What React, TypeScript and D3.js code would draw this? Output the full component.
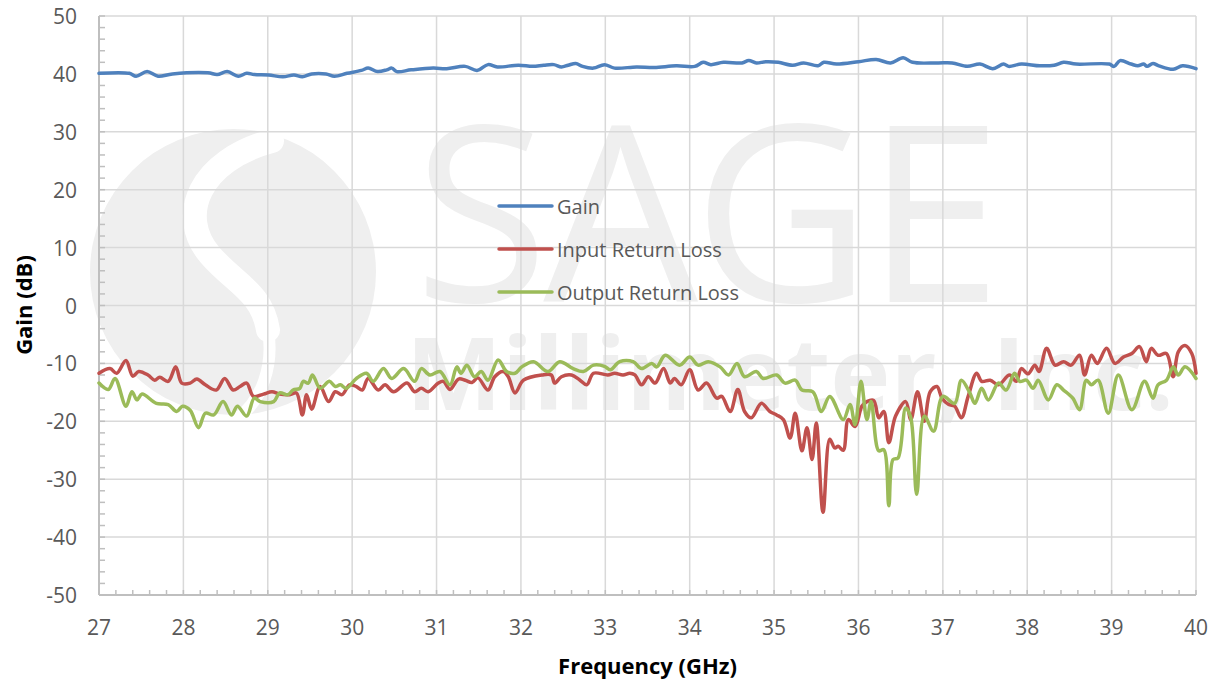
import React from 'react';
import * as d3 from 'd3';

type Pt = [number, number];

const freqTicks = [27, 28, 29, 30, 31, 32, 33, 34, 35, 36, 37, 38, 39, 40];
const gainTicks = [-50, -40, -30, -20, -10, 0, 10, 20, 30, 40, 50];
const seriesNames = ['Gain', 'Input Return Loss', 'Output Return Loss'];
const seriesColors = ['#4F81BD', '#C0504D', '#9BBB59'];

const gainData: Pt[] = [
  [27.00, 40.1], [27.36, 40.1], [27.44, 39.6], [27.57, 40.4], [27.70, 39.6], [27.87, 40.0], [28.29, 40.2],
  [28.40, 39.9], [28.52, 40.4], [28.65, 39.6], [28.75, 40.1], [28.84, 39.9], [29.01, 39.8], [29.18, 39.5],
  [29.31, 39.8], [29.41, 39.5], [29.52, 40.0], [29.69, 40.0], [29.79, 39.6], [29.94, 40.1], [30.11, 40.6],
  [30.19, 41.0], [30.30, 40.4], [30.41, 40.7], [30.47, 41.0], [30.53, 40.4], [30.70, 40.7], [30.96, 41.0],
  [31.12, 40.9], [31.34, 41.3], [31.48, 40.6], [31.61, 41.6], [31.72, 41.2], [31.97, 41.5], [32.14, 41.3],
  [32.27, 41.5], [32.39, 41.6], [32.48, 41.2], [32.56, 41.5], [32.65, 41.8], [32.73, 41.3], [32.86, 41.0],
  [32.99, 41.6], [33.11, 41.0], [33.37, 41.2], [33.58, 41.1], [33.84, 41.4], [34.06, 41.3], [34.16, 42.0],
  [34.25, 41.6], [34.40, 42.0], [34.62, 41.9], [34.70, 42.3], [34.79, 41.9], [34.90, 42.1], [35.05, 42.0],
  [35.22, 41.5], [35.35, 41.9], [35.52, 41.4], [35.59, 42.0], [35.74, 41.7], [36.00, 42.1], [36.21, 42.5],
  [36.38, 41.9], [36.53, 42.8], [36.64, 42.0], [36.94, 41.9], [37.11, 41.9], [37.29, 41.3], [37.44, 41.7],
  [37.59, 40.9], [37.72, 41.7], [37.78, 41.3], [37.93, 41.7], [38.15, 41.4], [38.32, 41.5], [38.43, 42.0],
  [38.58, 41.7], [38.97, 41.7], [39.03, 41.3], [39.10, 42.3], [39.23, 41.7], [39.31, 41.4], [39.38, 41.7],
  [39.42, 41.3], [39.49, 41.8], [39.56, 41.4], [39.73, 40.8], [39.84, 41.4], [40.00, 40.9],
];

const inputReturnLoss: Pt[] = [
  [27.00, -11.7], [27.13, -10.9], [27.21, -11.7], [27.32, -9.5], [27.40, -12.2], [27.47, -11.4], [27.58, -12.0],
  [27.66, -12.9], [27.72, -12.4], [27.82, -13.1], [27.91, -10.6], [27.98, -13.4], [28.08, -13.4], [28.16, -12.7],
  [28.26, -13.7], [28.39, -14.6], [28.49, -12.6], [28.59, -14.6], [28.67, -14.0], [28.75, -13.4], [28.83, -15.7],
  [28.95, -15.3], [29.05, -14.9], [29.14, -15.3], [29.26, -15.4], [29.34, -15.1], [29.41, -18.9], [29.46, -15.4],
  [29.52, -17.9], [29.62, -14.0], [29.72, -16.6], [29.80, -14.9], [29.88, -15.4], [29.97, -13.7], [30.05, -14.0],
  [30.12, -14.6], [30.19, -12.6], [30.31, -14.6], [30.39, -13.7], [30.49, -14.9], [30.65, -13.4], [30.74, -14.9],
  [30.82, -14.3], [30.90, -14.9], [31.02, -13.4], [31.08, -13.1], [31.16, -14.5], [31.26, -12.7], [31.34, -12.9],
  [31.42, -13.3], [31.49, -12.5], [31.61, -14.6], [31.69, -12.3], [31.79, -11.4], [31.85, -12.3], [31.93, -15.1],
  [32.03, -12.9], [32.25, -12.0], [32.36, -12.0], [32.40, -13.4], [32.48, -12.3], [32.60, -12.0], [32.70, -12.9],
  [32.78, -13.7], [32.86, -11.7], [33.03, -12.0], [33.11, -11.7], [33.21, -12.0], [33.29, -11.7], [33.35, -12.0],
  [33.43, -13.7], [33.51, -12.3], [33.59, -13.4], [33.69, -10.9], [33.77, -13.4], [33.82, -12.6], [33.90, -13.7],
  [34.00, -11.1], [34.10, -14.6], [34.20, -13.4], [34.32, -16.0], [34.38, -15.7], [34.48, -18.3], [34.57, -14.5],
  [34.65, -18.3], [34.73, -19.4], [34.85, -16.9], [34.95, -18.3], [35.03, -18.9], [35.11, -19.7], [35.19, -22.9],
  [35.25, -18.6], [35.33, -25.1], [35.39, -21.1], [35.45, -26.6], [35.50, -20.3], [35.58, -35.7], [35.66, -23.1],
  [35.72, -24.6], [35.76, -24.3], [35.82, -25.0], [35.88, -19.7], [35.96, -20.9], [36.04, -17.4], [36.10, -16.6],
  [36.18, -16.4], [36.24, -19.4], [36.30, -18.3], [36.36, -23.7], [36.44, -19.1], [36.56, -16.6], [36.62, -19.7],
  [36.70, -14.9], [36.78, -20.0], [36.85, -14.9], [36.93, -14.0], [36.99, -16.0], [37.07, -17.1], [37.14, -17.4],
  [37.22, -19.4], [37.30, -15.7], [37.40, -11.7], [37.46, -13.1], [37.56, -12.9], [37.66, -13.7], [37.79, -12.0],
  [37.87, -13.1], [37.93, -10.9], [38.01, -11.8], [38.09, -10.3], [38.14, -11.4], [38.23, -7.4], [38.33, -10.3],
  [38.43, -9.7], [38.52, -10.3], [38.62, -8.6], [38.68, -12.0], [38.76, -8.6], [38.83, -10.0], [38.94, -7.4],
  [39.04, -10.0], [39.14, -8.9], [39.24, -8.3], [39.33, -7.1], [39.41, -9.7], [39.47, -7.4], [39.55, -8.6],
  [39.65, -8.3], [39.73, -12.3], [39.79, -8.0], [39.87, -6.9], [39.95, -8.3], [40.00, -11.7],
];

const outputReturnLoss: Pt[] = [
  [27.00, -13.4], [27.11, -14.5], [27.19, -12.6], [27.32, -17.4], [27.39, -14.9], [27.45, -16.3], [27.51, -15.3],
  [27.68, -16.9], [27.82, -17.1], [27.92, -18.3], [27.99, -17.4], [28.08, -18.1], [28.18, -21.1], [28.26, -18.6],
  [28.36, -18.9], [28.47, -16.6], [28.57, -18.9], [28.64, -17.4], [28.75, -19.1], [28.84, -16.0], [28.91, -16.6],
  [29.07, -16.6], [29.14, -15.1], [29.24, -15.4], [29.30, -14.6], [29.38, -14.3], [29.42, -13.1], [29.48, -13.4],
  [29.53, -12.0], [29.62, -14.3], [29.73, -13.1], [29.80, -14.0], [29.86, -13.7], [29.93, -14.3], [30.05, -12.6],
  [30.17, -11.7], [30.25, -13.1], [30.37, -10.9], [30.47, -12.6], [30.61, -10.9], [30.74, -13.1], [30.82, -10.9],
  [30.92, -12.0], [31.04, -11.4], [31.16, -13.7], [31.24, -10.6], [31.29, -11.7], [31.36, -10.3], [31.45, -12.3],
  [31.53, -11.4], [31.61, -12.9], [31.73, -9.4], [31.83, -11.4], [31.93, -11.7], [32.01, -10.6], [32.15, -9.7],
  [32.32, -11.4], [32.46, -9.7], [32.62, -10.9], [32.74, -11.4], [32.86, -10.3], [32.99, -10.5], [33.06, -11.1],
  [33.17, -9.7], [33.33, -9.7], [33.43, -10.9], [33.55, -10.0], [33.61, -10.6], [33.71, -8.6], [33.88, -10.3],
  [34.00, -8.9], [34.10, -10.3], [34.22, -9.7], [34.36, -10.6], [34.46, -12.0], [34.56, -10.0], [34.65, -12.3],
  [34.79, -11.4], [34.87, -12.6], [35.03, -12.0], [35.13, -13.4], [35.25, -12.9], [35.33, -14.6], [35.46, -14.9],
  [35.56, -18.3], [35.66, -15.7], [35.82, -19.7], [35.90, -17.1], [35.96, -20.6], [36.03, -13.1], [36.10, -19.7],
  [36.15, -16.6], [36.24, -25.1], [36.30, -24.9], [36.36, -34.6], [36.41, -26.6], [36.47, -26.3], [36.56, -17.7],
  [36.62, -19.4], [36.69, -32.6], [36.78, -19.1], [36.89, -21.7], [37.00, -15.7], [37.14, -16.9], [37.22, -12.9],
  [37.32, -15.1], [37.38, -16.9], [37.46, -14.3], [37.54, -16.3], [37.66, -13.4], [37.75, -14.6], [37.85, -11.7],
  [37.91, -13.1], [37.99, -12.9], [38.07, -14.3], [38.13, -12.9], [38.25, -16.3], [38.35, -13.7], [38.43, -14.6],
  [38.54, -16.0], [38.62, -18.0], [38.70, -12.9], [38.76, -13.7], [38.84, -12.9], [38.96, -18.6], [39.08, -12.0],
  [39.24, -18.0], [39.39, -13.1], [39.49, -16.0], [39.55, -13.7], [39.65, -12.9], [39.73, -10.6], [39.79, -12.0],
  [39.87, -10.6], [40.00, -12.6],
];

const FONT = "'Open Sans', 'Noto Sans', sans-serif";

export default function App() {
  const W = 1216;
  const H = 680;
  const left = 99, right = 1196, top = 16, bottom = 595;
  const x = d3.scaleLinear().domain([27, 40]).range([left, right]);
  const y = d3.scaleLinear().domain([-50, 50]).range([bottom, top]);
  const line = d3
    .line<Pt>()
    .x((d) => x(d[0]))
    .y((d) => y(d[1]))
    .curve(d3.curveCatmullRom.alpha(0.5));

  const minorY = d3.range(-50, 50.001, 2);
  const minorX = d3.range(0, 66).map((i) => 27 + i * 0.2);
  const series = [gainData, inputReturnLoss, outputReturnLoss];
  const wm = '#efefef';

  return (
    <svg
      width={W}
      height={H}
      viewBox={`0 0 ${W} ${H}`}
      style={{ position: 'absolute', left: 0, top: 0, background: '#fff' }}
    >
      <rect x={0} y={0} width={W} height={H} fill="#fff" />
      {/* watermark logo (drawn as shapes) */}
      <g>
        <circle cx={233} cy={272} r={143} fill={wm} />
        <path
          d="M 272,141 C 200,160 176,215 210,255 C 234,283 262,292 268,330"
          fill="none"
          stroke="#fff"
          strokeWidth={24}
          strokeLinecap="round"
        />
        <path
          d="M 268,330 C 274,365 262,400 238,418"
          fill="none"
          stroke="#fff"
          strokeWidth={12}
          strokeLinecap="round"
        />
        <text
          x={414}
          y={302}
          fontFamily={FONT}
          fontSize={245}
          fill={wm}
          textLength={588}
          lengthAdjust="spacing"
        >
          SAGE
        </text>
        <text
          x={406}
          y={410}
          fontFamily={FONT}
          fontWeight={700}
          fontSize={100}
          fill={wm}
          textLength={768}
          lengthAdjust="spacingAndGlyphs"
        >
          Millimeter, Inc.
        </text>
      </g>

      {/* gridlines */}
      {gainTicks.map((t) => (
        <line key={'gy' + t} x1={left} x2={right} y1={y(t)} y2={y(t)} stroke="#d9d9d9" strokeWidth={1.5} />
      ))}
      {freqTicks.map((t) => (
        <line key={'gx' + t} x1={x(t)} x2={x(t)} y1={top} y2={bottom} stroke="#d9d9d9" strokeWidth={1.5} />
      ))}

      {/* axes */}
      <line x1={left} x2={left} y1={top} y2={bottom} stroke="#bfbfbf" strokeWidth={2} />
      <line x1={left} x2={right} y1={bottom} y2={bottom} stroke="#bfbfbf" strokeWidth={2} />
      {minorY.map((t) => (
        <line key={'my' + t} x1={left} x2={left + 6} y1={y(t)} y2={y(t)} stroke="#bfbfbf" strokeWidth={1.5} />
      ))}
      {minorX.map((t, i) => (
        <line key={'mx' + i} x1={x(t)} x2={x(t)} y1={bottom} y2={bottom - 5} stroke="#bfbfbf" strokeWidth={1.5} />
      ))}

      {/* tick labels */}
      {gainTicks.map((t) => (
        <text
          key={'ly' + t}
          x={77}
          y={y(t)}
          textAnchor="end"
          dominantBaseline="central"
          fontFamily={FONT}
          fontSize={21}
          fill="#595959"
        >
          {t}
        </text>
      ))}
      {freqTicks.map((t) => (
        <text
          key={'lx' + t}
          x={x(t)}
          y={627}
          textAnchor="middle"
          dominantBaseline="central"
          fontFamily={FONT}
          fontSize={21}
          fill="#595959"
        >
          {t}
        </text>
      ))}

      {/* axis titles */}
      <text
        x={647.5}
        y={665}
        textAnchor="middle"
        dominantBaseline="central"
        fontFamily={FONT}
        fontWeight={700}
        fontSize={22}
        fill="#000"
      >
        Frequency (GHz)
      </text>
      <text
        transform="translate(23,305) rotate(-90)"
        textAnchor="middle"
        dominantBaseline="central"
        fontFamily={FONT}
        fontWeight={700}
        fontSize={22}
        fill="#000"
      >
        Gain (dB)
      </text>

      {/* series */}
      {series.map((s, i) => (
        <path
          key={'s' + i}
          d={line(s) || ''}
          fill="none"
          stroke={seriesColors[i]}
          strokeWidth={3.5}
          strokeLinejoin="round"
          strokeLinecap="round"
        />
      ))}

      {/* legend */}
      {seriesNames.map((n, i) => {
        const ly = 206 + i * 43;
        return (
          <g key={'lg' + i}>
            <line x1={499} x2={552} y1={ly} y2={ly} stroke={seriesColors[i]} strokeWidth={3.5} strokeLinecap="round" />
            <text x={557} y={ly} dominantBaseline="central" fontFamily={FONT} fontSize={20} fill="#595959">
              {n}
            </text>
          </g>
        );
      })}
    </svg>
  );
}
